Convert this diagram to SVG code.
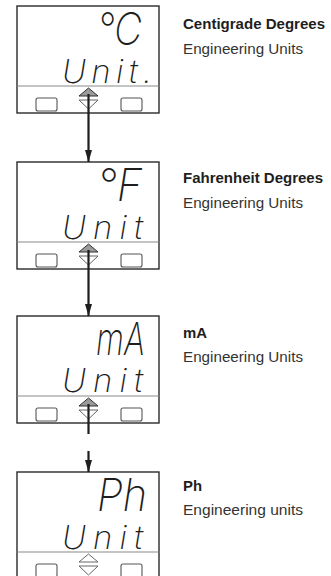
<svg xmlns="http://www.w3.org/2000/svg" xmlns:xlink="http://www.w3.org/1999/xlink" width="331" height="576" viewBox="0 0 331 576">
<style>
.frame{fill:#fff;stroke:#2a2a2a;stroke-width:1.4}
.sep{stroke:#8a8a8a;stroke-width:1.2}
.btn{fill:#fff;stroke:#555;stroke-width:1.1}
.tri{fill:#fff;stroke:#666;stroke-width:1}
.tri-on{fill:#9a9a9a;stroke:#333;stroke-width:1}
.seg{font-family:Inter,"Liberation Sans",Arial,sans-serif;font-weight:200;font-style:italic;fill:#1e1e1e}
.top{font-size:45px}
.unit{font-size:33px}
.title{font-family:"Liberation Sans",Arial,sans-serif;font-weight:bold;font-size:15px;fill:#1e1e1e}
.sub{font-family:"Liberation Sans",Arial,sans-serif;font-size:15.5px;fill:#333}
.conn{stroke:#1e1e1e;stroke-width:2.2;fill:none}
</style>
<defs>
<marker id="head" markerUnits="userSpaceOnUse" markerWidth="12" markerHeight="7" refX="12" refY="3.5" orient="auto">
<path d="M0,0 L12,3.5 L0,7 z" fill="#1e1e1e"/>
</marker>
<g id="panel">
<rect class="frame" x="17" y="0" width="142" height="107"/>
<line class="sep" x1="17" y1="80" x2="159" y2="80"/>
<rect class="btn" x="36" y="92" width="21" height="13" rx="2"/>
<rect class="btn" x="121" y="92" width="21" height="13" rx="2"/>
<polygon class="tri" points="79,94 98,94 88.5,103"/>
</g>
</defs>

<g id="node-centigrade" transform="translate(0,6)">
<use xlink:href="#panel"/>
<polygon class="tri-on" points="79,90 88.5,82 98,90"/>
<text class="seg top" x="97" y="39" textLength="45" lengthAdjust="spacingAndGlyphs">°C</text>
<text class="seg unit" x="62" y="77" textLength="90" lengthAdjust="spacing">Unit.</text>
</g>
<g id="label-centigrade">
<text class="title" x="183" y="28.5" textLength="142" lengthAdjust="spacingAndGlyphs">Centigrade Degrees</text>
<text class="sub" x="183" y="53.5" textLength="120" lengthAdjust="spacingAndGlyphs">Engineering Units</text>
</g>

<g id="node-fahrenheit" transform="translate(0,162)">
<use xlink:href="#panel"/>
<polygon class="tri-on" points="79,90 88.5,82 98,90"/>
<text class="seg top" x="97" y="38.5" textLength="45" lengthAdjust="spacingAndGlyphs">°F</text>
<text class="seg unit" x="62" y="77" textLength="81" lengthAdjust="spacing">Unit</text>
</g>
<g id="label-fahrenheit">
<text class="title" x="183" y="183" textLength="140" lengthAdjust="spacingAndGlyphs">Fahrenheit Degrees</text>
<text class="sub" x="183" y="208" textLength="120" lengthAdjust="spacingAndGlyphs">Engineering Units</text>
</g>

<g id="node-ma" transform="translate(0,316)">
<use xlink:href="#panel"/>
<polygon class="tri-on" points="79,90 88.5,82 98,90"/>
<text class="seg top" x="96" y="39" textLength="49" lengthAdjust="spacingAndGlyphs">mA</text>
<text class="seg unit" x="62" y="76" textLength="81" lengthAdjust="spacing">Unit</text>
</g>
<g id="label-ma">
<text class="title" x="183" y="337.5" textLength="24" lengthAdjust="spacingAndGlyphs">mA</text>
<text class="sub" x="183" y="362" textLength="120" lengthAdjust="spacingAndGlyphs">Engineering Units</text>
</g>

<g id="node-ph" transform="translate(0,472)">
<use xlink:href="#panel"/>
<polygon class="tri" points="79,90 88.5,82 98,90"/>
<text class="seg top" x="97" y="39" textLength="50" lengthAdjust="spacingAndGlyphs">Ph</text>
<text class="seg unit" x="62" y="76.5" textLength="81" lengthAdjust="spacing">Unit</text>
</g>
<g id="label-ph">
<text class="title" x="183" y="490.5" textLength="19" lengthAdjust="spacingAndGlyphs">Ph</text>
<text class="sub" x="183" y="515" textLength="120" lengthAdjust="spacingAndGlyphs">Engineering units</text>
</g>

<g id="connectors">
<line class="conn" x1="88.5" y1="94" x2="88.5" y2="162" marker-end="url(#head)"/>
<line class="conn" x1="88.5" y1="250" x2="88.5" y2="316" marker-end="url(#head)"/>
<line class="conn" x1="88.5" y1="404" x2="88.5" y2="434"/>
<line class="conn" x1="88.5" y1="451" x2="88.5" y2="472" marker-end="url(#head)"/>
</g>
</svg>
